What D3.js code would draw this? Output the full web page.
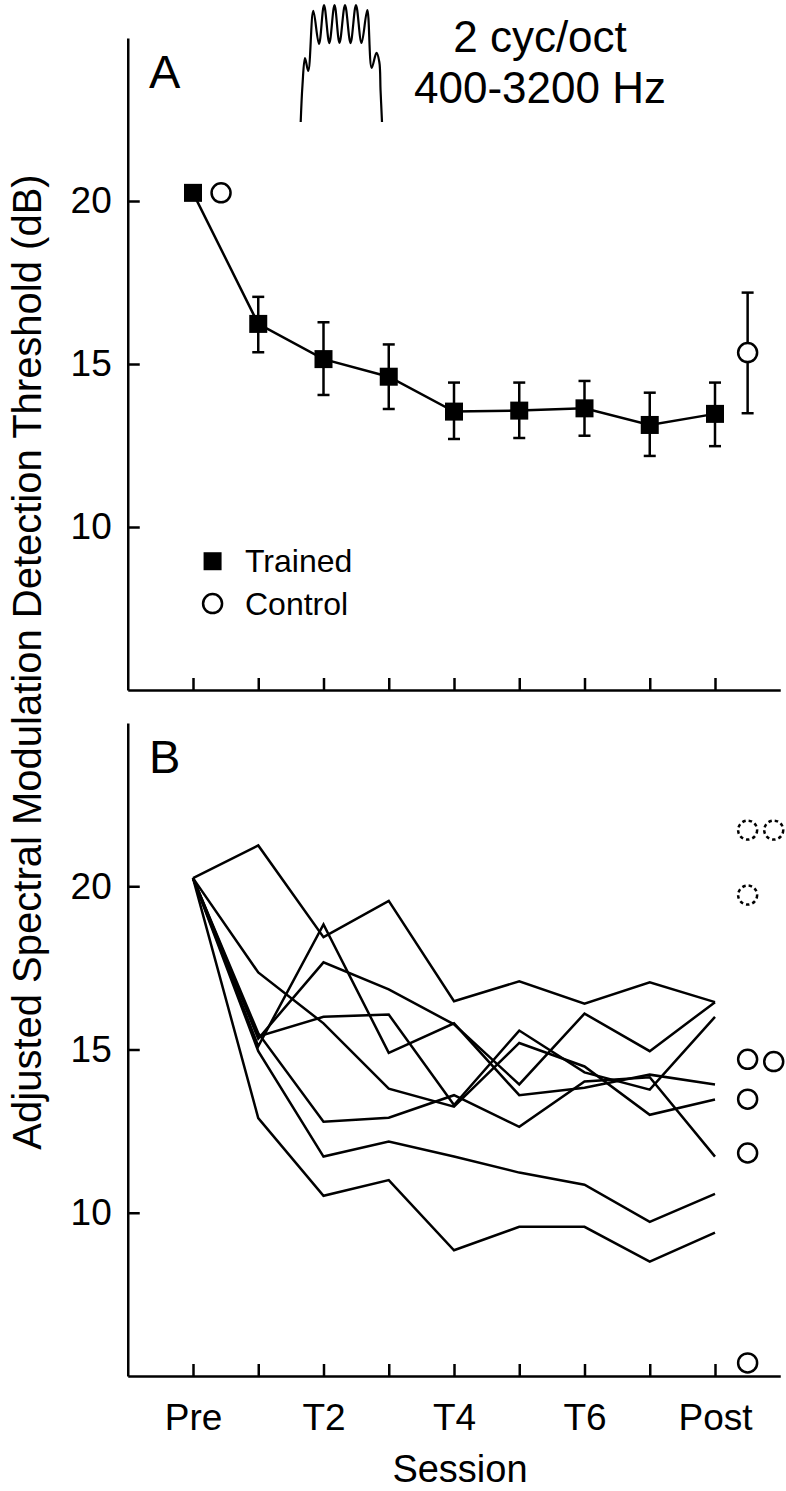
<!DOCTYPE html>
<html><head><meta charset="utf-8">
<script src="https://cdn.jsdelivr.net/npm/d3@7"></script>
<style>
body{margin:0;background:#fff}
svg{display:block}
text{font-family:"Liberation Sans",Arial,Helvetica,sans-serif;fill:#000}
</style>
</head><body>
<svg id="c" width="786" height="1491"></svg>
<script>
// ---------- data ----------
const sessions = ["Pre","T1","T2","T3","T4","T5","T6","T7","Post"];
const xTickLabels = ["Pre","","T2","","T4","","T6","","Post"];
const yTicks = [10,15,20];

// Panel A: group means and error bars
const trainedMean = [20.25,16.23,15.15,14.61,13.54,13.57,13.64,13.13,13.47];
const trainedHi   = [null,17.06,16.28,15.60,14.43,14.43,14.48,14.12,14.43];
const trainedLo   = [null,15.36,14.05,13.62,12.70,12.73,12.80,12.18,12.48];
const controlSessionIdx = [0,8];
const controlMean = [20.25,15.35];
const controlHi   = [null,17.19];
const controlLo   = [null,13.49];

// Panel B: individual trained listeners
const listener1 = [20.25,21.25,18.44,19.55,16.48,17.09,16.40,17.06,16.45];
const listener2 = [20.25,15.33,17.67,16.84,15.77,13.93,16.10,14.95,16.45];
const listener3 = [20.25,15.10,18.83,14.90,15.80,13.60,13.83,14.23,13.93];
const listener4 = [20.25,17.36,15.80,13.80,13.25,15.20,14.48,13.00,13.47];
const listener5 = [20.25,15.40,16.00,16.07,13.30,15.58,14.30,13.77,16.00];
const listener6 = [20.25,15.50,12.79,12.91,13.60,12.63,14.02,14.15,11.72];
const listener7 = [20.25,14.95,11.72,12.18,11.72,11.23,10.86,9.72,10.58];
const listener8 = [20.25,12.90,10.52,11.00,8.85,9.57,9.57,8.50,9.39];

// Panel B: individual controls at Post (column 0 / 1, dashed = outlier)
const controlPostValues  = [21.72,19.73,14.70,13.48,11.83,5.40,21.72,14.63];
const controlPostColumn  = [0,0,0,0,0,0,1,1];
const controlPostDashed  = [true,true,false,false,false,false,true,false];

// Inset stimulus spectrum (normalised frequency / amplitude)
const waveFreq = [0,0.022,0.053,0.093,0.155,0.225,0.287,0.352,0.416,0.477,0.545,0.613,0.680,0.748,0.819,0.873,0.932,0.967,0.982,1];
const waveAmp  = [0,0.316,0.547,0.436,0.949,0.667,1,0.675,1,0.675,1,0.675,1,0.675,0.957,0.462,0.590,0.513,0.274,0];

const titleLines = ["2 cyc/oct","400-3200 Hz"];
const legendLabels = ["Trained","Control"];
const yLabel = "Adjusted Spectral Modulation Detection Threshold (dB)";
const xLabel = "Session";

// ---------- layout ----------
const svg = d3.select("#c");
const x = d3.scaleLinear().domain([-1,9]).range([127.75,780.25]);
const yA = d3.scaleLinear().domain([5,25]).range([690,38]);
const yB = d3.scaleLinear().domain([5,25]).range([1376,723]);
const TICK_FS = 37, LW = 2.5;

function styleAxis(g){
  g.selectAll(".domain").attr("stroke","#000").attr("stroke-width",LW);
  g.selectAll(".tick line").attr("stroke","#000").attr("stroke-width",LW);
  g.selectAll(".tick text").attr("font-size",TICK_FS).attr("font-family",'"Liberation Sans",Arial,sans-serif').attr("fill","#000");
}

function drawAxes(y, showXLabels){
  const gy = svg.append("g").attr("transform",`translate(${x(-1)},0)`)
    .call(d3.axisLeft(y).tickValues(yTicks).tickSize(-12).tickSizeOuter(0).tickPadding(16).tickFormat(d3.format("d")));
  styleAxis(gy);
  const gx = svg.append("g").attr("transform",`translate(0,${y(5)})`)
    .call(d3.axisBottom(x).tickValues(d3.range(sessions.length)).tickSize(-12).tickSizeOuter(0).tickPadding(28)
      .tickFormat(i => showXLabels ? xTickLabels[i] : ""));
  styleAxis(gx);
}

drawAxes(yA,false);
drawAxes(yB,true);

// ---------- Panel A ----------
const line = (y) => d3.line().x((d,i)=>x(i)).y(d=>y(d));
svg.append("path").datum(trainedMean).attr("d",line(yA)).attr("fill","none").attr("stroke","#000").attr("stroke-width",LW);

function errBar(cx, lo, hi, y){
  const g = svg.append("g").attr("stroke","#000").attr("stroke-width",LW);
  g.append("line").attr("x1",cx).attr("x2",cx).attr("y1",y(lo)).attr("y2",y(hi));
  g.append("line").attr("x1",cx-6).attr("x2",cx+6).attr("y1",y(lo)).attr("y2",y(lo));
  g.append("line").attr("x1",cx-6).attr("x2",cx+6).attr("y1",y(hi)).attr("y2",y(hi));
}
trainedMean.forEach((v,i)=>{ if(trainedHi[i]!=null) errBar(x(i),trainedLo[i],trainedHi[i],yA); });
const SQ = 18;
svg.append("g").selectAll("rect").data(trainedMean).join("rect")
  .attr("x",(d,i)=>x(i)-SQ/2).attr("y",d=>yA(d)-SQ/2).attr("width",SQ).attr("height",SQ).attr("fill","#000");

const ctrlOffset = [0.43,0.5];
controlMean.forEach((v,k)=>{
  const cx = x(controlSessionIdx[k]+ctrlOffset[k]);
  if(controlHi[k]!=null) errBar(cx,controlLo[k],controlHi[k],yA);
  svg.append("circle").attr("cx",cx).attr("cy",yA(v)).attr("r",9.5).attr("fill","#fff").attr("stroke","#000").attr("stroke-width",LW);
});

// legend
svg.append("rect").attr("x",x(0.3)-SQ/2).attr("y",yA(8.95)-SQ/2).attr("width",SQ).attr("height",SQ).attr("fill","#000");
svg.append("circle").attr("cx",x(0.3)).attr("cy",yA(7.65)).attr("r",9.5).attr("fill","#fff").attr("stroke","#000").attr("stroke-width",LW);
svg.append("text").attr("x",245).attr("y",yA(8.95)+11).attr("font-size",32).text(legendLabels[0]);
svg.append("text").attr("x",245).attr("y",yA(7.65)+11).attr("font-size",32).text(legendLabels[1]);

// panel letters
svg.append("text").attr("x",149).attr("y",88).attr("font-size",47).text("A");
svg.append("text").attr("x",149).attr("y",773).attr("font-size",47).text("B");

// title
svg.append("text").attr("x",540).attr("y",52).attr("text-anchor","middle").attr("font-size",44).text(titleLines[0]);
svg.append("text").attr("x",540).attr("y",103).attr("text-anchor","middle").attr("font-size",44).text(titleLines[1]);

// inset spectrum
const wx = d3.scaleLinear().domain([0,1]).range([300.7,382]);
const wy = d3.scaleLinear().domain([0,1]).range([122,5]);
svg.append("path").datum(waveFreq.map((f,i)=>[f,waveAmp[i]]))
  .attr("d",d3.line().x(d=>wx(d[0])).y(d=>wy(d[1])).curve(d3.curveCatmullRom.alpha(0.5)))
  .attr("fill","none").attr("stroke","#000").attr("stroke-width",2.2);

// ---------- Panel B ----------
const listeners = [listener1,listener2,listener3,listener4,listener5,listener6,listener7,listener8];
svg.append("g").selectAll("path").data(listeners).join("path")
  .attr("d",line(yB)).attr("fill","none").attr("stroke","#000").attr("stroke-width",LW).attr("stroke-linejoin","miter");

const colOffset = [0.5,0.9];
svg.append("g").selectAll("circle").data(controlPostValues).join("circle")
  .attr("cx",(d,i)=>x(8+colOffset[controlPostColumn[i]]))
  .attr("cy",d=>yB(d)).attr("r",9.5)
  .attr("fill","#fff").attr("stroke","#000").attr("stroke-width",LW)
  .attr("stroke-dasharray",(d,i)=>controlPostDashed[i]?"3.5,3":null);

// axis titles
svg.append("text").attr("x",460).attr("y",1482).attr("text-anchor","middle").attr("font-size",38).text(xLabel);
svg.append("text").attr("transform","translate(41,662) rotate(-90)").attr("text-anchor","middle").attr("font-size",40).text(yLabel);
</script>
</body></html>
